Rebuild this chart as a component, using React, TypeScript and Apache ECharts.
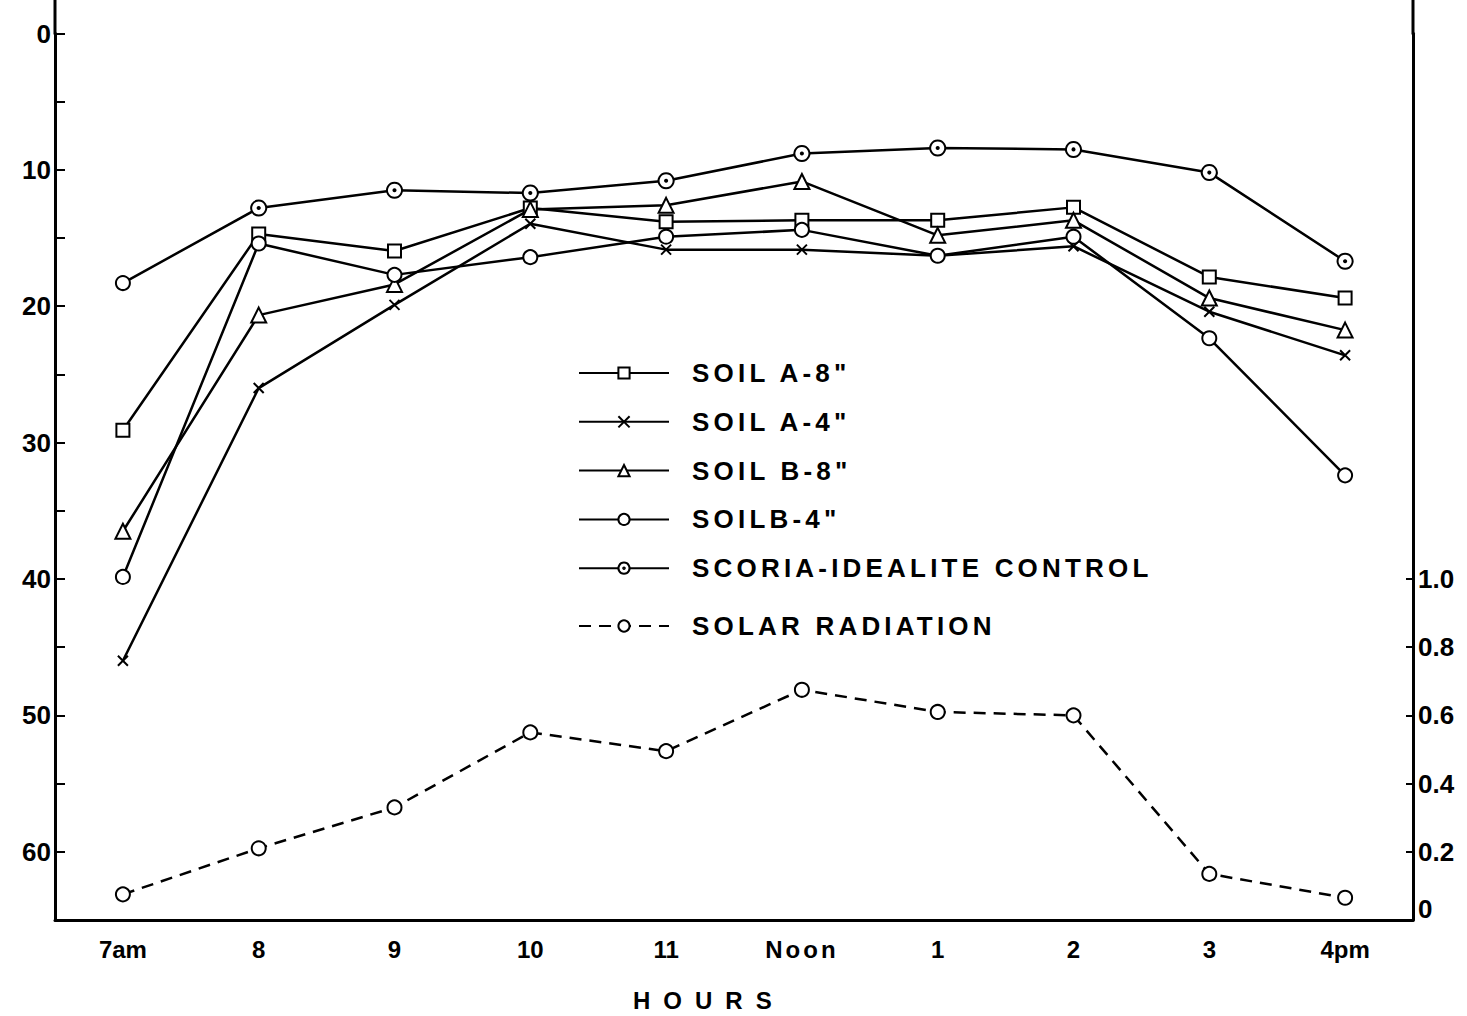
import React, { useEffect, useRef } from "react";
import * as echarts from "echarts";

// Hours of the day along the bottom axis
const hours = ["7am", "8", "9", "10", "11", "Noon", "1", "2", "3", "4pm"];

// Soil moisture tension readings (left axis, increasing downward)
const soilA8 = [29.1, 14.7, 15.95, 12.8, 13.8, 13.7, 13.7, 12.75, 17.85, 19.4];
const soilA4 = [46.0, 26.0, 19.9, 13.95, 15.85, 15.85, 16.3, 15.6, 20.4, 23.6];
const soilB8 = [36.5, 20.65, 18.4, 12.9, 12.6, 10.85, 14.8, 13.7, 19.4, 21.75];
const soilB4 = [39.85, 15.4, 17.7, 16.4, 14.9, 14.4, 16.3, 14.9, 22.35, 32.4];
const control = [18.3, 12.8, 11.5, 11.7, 10.8, 8.8, 8.4, 8.5, 10.2, 16.7];

// Solar radiation (right axis)
const solar = [0.075, 0.21, 0.33, 0.55, 0.495, 0.675, 0.61, 0.6, 0.135, 0.065];

const NAME_A8 = 'SOIL A-8"';
const NAME_A4 = 'SOIL A-4"';
const NAME_B8 = 'SOIL B-8"';
const NAME_B4 = 'SOILB-4"';
const NAME_CTRL = "SCORIA-IDEALITE CONTROL";
const NAME_SOLAR = "SOLAR RADIATION";

const FONT = '"Liberation Sans", Arial, sans-serif';
const INK = "#000";

const DOT_CIRCLE = "path://M10,0A10,10,0,1,1,9.99,0Z M10,8.6A1.4,1.4,0,1,1,9.99,8.6Z";
const CROSS = "path://M0,0L10,10M10,0L0,10";

// frame geometry
const GRID_LEFT = 55;
const GRID_RIGHT = 54;
const GRID_TOP = 33.5;
const GRID_BOTTOM = 96.1;
const SOLAR_TOP = 579;

const lineBase = {
  type: "line" as const,
  xAxisIndex: 0,
  yAxisIndex: 0,
  lineStyle: { color: INK, width: 2.5 },
  emphasis: { disabled: true },
  z: 3,
};

const legendText = {
  color: INK,
  fontSize: 26,
  lineHeight: 24,
  fontWeight: "bold",
  fontFamily: FONT,
  padding: [0, 0, 0, 18],
};

function buildOption() {
  return {
    animation: false,
    backgroundColor: "#fff",
    textStyle: { fontFamily: FONT, color: INK },
    grid: [
      { left: GRID_LEFT, right: GRID_RIGHT, top: GRID_TOP, bottom: GRID_BOTTOM },
      { left: GRID_LEFT, right: GRID_RIGHT, top: SOLAR_TOP, bottom: GRID_BOTTOM },
    ],
    xAxis: [
      {
        type: "category",
        gridIndex: 0,
        data: hours,
        boundaryGap: true,
        axisLine: { onZero: false, lineStyle: { color: INK, width: 3 } },
        axisTick: { alignWithLabel: true, inside: true, length: 8, lineStyle: { color: INK, width: 2 } },
        axisLabel: { color: INK, fontSize: 24, fontWeight: "bold", fontFamily: FONT, margin: 18 },
        splitLine: { show: false },
      },
      {
        type: "category",
        gridIndex: 1,
        data: hours,
        boundaryGap: true,
        show: false,
      },
    ],
    yAxis: [
      {
        type: "value",
        gridIndex: 0,
        inverse: true,
        min: 0,
        max: 65,
        interval: 5,
        axisLine: { show: true, onZero: false, lineStyle: { color: INK, width: 3 } },
        axisTick: { show: true, inside: true, length: 10, lineStyle: { color: INK, width: 2 } },
        axisLabel: {
          color: INK,
          fontSize: 26,
          fontWeight: "bold",
          fontFamily: FONT,
          margin: 4,
          formatter: (v: number) => (v % 10 === 0 ? String(v) : ""),
        },
        splitLine: { show: false },
      },
      {
        type: "value",
        gridIndex: 0,
        position: "right",
        min: 0,
        max: 1,
        axisLine: { show: true, onZero: false, lineStyle: { color: INK, width: 3 } },
        axisTick: { show: false },
        axisLabel: { show: false },
        splitLine: { show: false },
      },
      {
        type: "value",
        gridIndex: 1,
        position: "right",
        min: 0,
        max: 1,
        interval: 0.2,
        axisLine: { show: false, onZero: false },
        axisTick: { show: true, inside: true, length: 7, lineStyle: { color: INK, width: 2 } },
        axisLabel: {
          color: INK,
          fontSize: 26,
          fontWeight: "bold",
          fontFamily: FONT,
          margin: 5,
          formatter: (v: number) => (v === 0 ? "{z|0}" : v.toFixed(1)),
          rich: { z: { fontSize: 26, fontWeight: "bold", fontFamily: FONT, color: INK, padding: [0, 0, 22, 0] } },
        },
        splitLine: { show: false },
      },
    ],
    legend: [
      {
        orient: "vertical",
        left: 578,
        top: 360,
        padding: 0,
        itemWidth: 90,
        itemHeight: 14,
        itemGap: 22.8,
        selectedMode: false,
        textStyle: legendText,
        data: [NAME_A8, NAME_A4, NAME_B8, NAME_B4, NAME_CTRL],
      },
      {
        orient: "vertical",
        left: 578,
        top: 613,
        padding: 0,
        itemWidth: 90,
        itemHeight: 14,
        selectedMode: false,
        textStyle: legendText,
        data: [NAME_SOLAR],
      },
    ],
    graphic: [
      // the two vertical frame lines continue above the 0 tick to the top edge
      {
        type: "line",
        shape: { x1: GRID_LEFT, y1: 0, x2: GRID_LEFT, y2: GRID_TOP + 1 },
        style: { stroke: INK, lineWidth: 3 },
        silent: true,
      },
      {
        type: "line",
        shape: { x1: 1467 - GRID_RIGHT, y1: 0, x2: 1467 - GRID_RIGHT, y2: GRID_TOP + 1 },
        style: { stroke: INK, lineWidth: 3 },
        silent: true,
      },
      {
        type: "text",
        left: 633,
        top: 988,
        style: { text: "HOURS", fill: INK, font: `bold 24px ${FONT}` },
      },
    ],
    series: [
      {
        ...lineBase,
        name: NAME_A8,
        data: soilA8,
        symbol: "emptyRect",
        symbolSize: 13,
        itemStyle: { color: INK, borderColor: INK, borderWidth: 2 },
      },
      {
        ...lineBase,
        name: NAME_A4,
        data: soilA4,
        symbol: CROSS,
        symbolSize: 10,
        itemStyle: { color: INK, borderColor: INK, borderWidth: 2 },
      },
      {
        ...lineBase,
        name: NAME_B8,
        data: soilB8,
        symbol: "emptyTriangle",
        symbolSize: 15,
        itemStyle: { color: INK, borderColor: INK, borderWidth: 2 },
      },
      {
        ...lineBase,
        name: NAME_B4,
        data: soilB4,
        symbol: "emptyCircle",
        symbolSize: 14,
        itemStyle: { color: INK, borderColor: INK, borderWidth: 2 },
      },
      {
        ...lineBase,
        name: NAME_CTRL,
        // the 7am reading is plotted with a plain circle
        data: control.map((v, i) =>
          i === 0
            ? { value: v, symbol: "emptyCircle", symbolSize: 14, itemStyle: { color: INK, borderColor: INK, borderWidth: 2 } }
            : v
        ),
        symbol: DOT_CIRCLE,
        symbolSize: 15,
        itemStyle: { color: "#fff", borderColor: INK, borderWidth: 2 },
      },
      {
        ...lineBase,
        name: NAME_SOLAR,
        xAxisIndex: 1,
        yAxisIndex: 2,
        data: solar,
        symbol: "emptyCircle",
        symbolSize: 14,
        lineStyle: { color: INK, width: 2.5, type: [12, 8] },
        itemStyle: { color: INK, borderColor: INK, borderWidth: 2 },
      },
    ],
  };
}

const legendNames = [NAME_A8, NAME_A4, NAME_B8, NAME_B4, NAME_CTRL, NAME_SOLAR];

export default function App() {
  const ref = useRef<HTMLDivElement>(null);

  useEffect(() => {
    if (!ref.current) return;
    const el = ref.current;
    const chart = echarts.init(el, null, { renderer: "svg" });
    chart.setOption(buildOption() as any);

    // widen the lettering of the legend and the axis title
    const spaceLetters = () => {
      el.querySelectorAll("text").forEach((t) => {
        const s = (t.textContent || "").trim();
        if (legendNames.includes(s)) t.setAttribute("letter-spacing", "4.2");
        else if (s === "HOURS") t.setAttribute("letter-spacing", "13");
        else if (s === "Noon") t.setAttribute("letter-spacing", "3");
      });
    };
    spaceLetters();
    chart.on("finished", spaceLetters);

    return () => {
      chart.dispose();
    };
  }, []);

  return (
    <div
      ref={ref}
      style={{ position: "fixed", left: 0, top: 0, width: 1467, height: 1016, background: "#fff" }}
    />
  );
}
